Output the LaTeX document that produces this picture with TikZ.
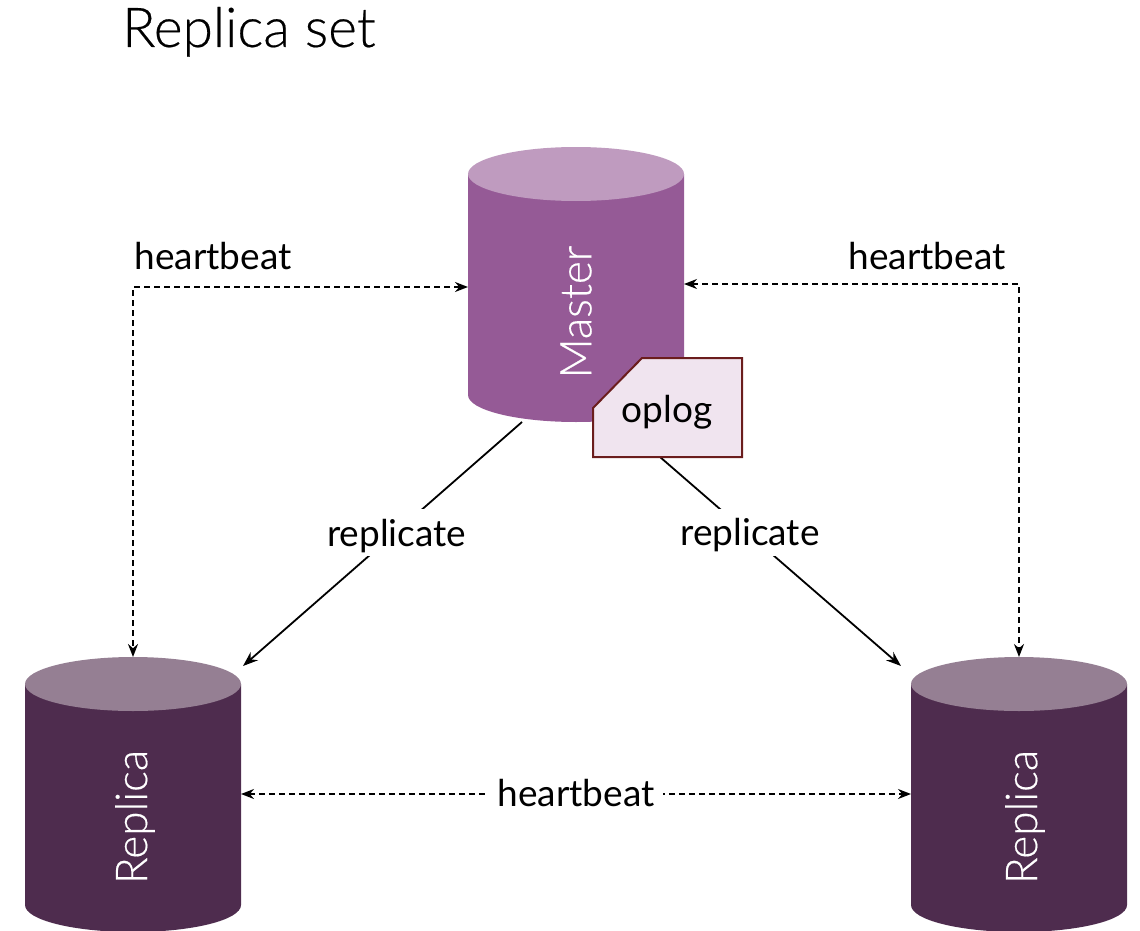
\documentclass[tikz,border=0pt]{standalone}
\usepackage{fontspec}
\setmainfont{Lato}
\newfontfamily\lightfont[FakeBold=0.35]{Lato Light}
\usetikzlibrary{arrows.meta,calc}
\definecolor{masterbody}{HTML}{955A96}
\definecolor{mastertop}{HTML}{BF9BBF}
\definecolor{replicabody}{HTML}{4E2C4E}
\definecolor{replicatop}{HTML}{957F93}
\definecolor{oplogfill}{HTML}{F0E4EF}
\definecolor{oplogline}{HTML}{6B1D1D}
\tikzset{
  cylbox/.style={minimum width=216pt,minimum height=275pt,inner sep=0pt,outer sep=0pt,anchor=north west},
  cyltext/.style={text=white,font=\lightfont\fontsize{44}{44}\selectfont,rotate=90,inner sep=0pt},
  lbl/.style={font=\fontsize{37}{37}\selectfont,text=black,inner sep=0pt},
  cutlbl/.style={lbl,fill=white,inner xsep=8pt,inner ysep=8pt,text height=29pt,text depth=2pt},
  replarrow/.style={draw=black,line width=1.8pt,-{Stealth[length=15pt,width=11pt]}},
  hbarrow/.style={draw=black,line width=1.8pt,dash pattern=on 6pt off 4pt,{Stealth[length=13pt,width=10pt]}-{Stealth[length=13pt,width=10pt]}}
}
\begin{document}
\begin{tikzpicture}[x=1pt,y=-1pt]
\useasboundingbox (0,0) rectangle (1140,931);
\node[font=\lightfont\fontsize{55}{55}\selectfont,anchor=base west,inner sep=0pt] (title) at (122,47) {Replica set};
% cylinders
\fill[masterbody] (468,174) -- (468,395) arc[start angle=180,end angle=0,x radius=108,y radius=27] -- (684,174) -- cycle;
\fill[mastertop] (576,174) ellipse[x radius=108,y radius=27];
\fill[replicabody] (25,684) -- (25,905) arc[start angle=180,end angle=0,x radius=108,y radius=27] -- (241,684) -- cycle;
\fill[replicatop] (133,684) ellipse[x radius=108,y radius=27];
\fill[replicabody] (911,684) -- (911,905) arc[start angle=180,end angle=0,x radius=108,y radius=27] -- (1127,684) -- cycle;
\fill[replicatop] (1019,684) ellipse[x radius=108,y radius=27];
\node[cylbox] (master) at (468,147) {};
\node[cylbox] (repl) at (25,657) {};
\node[cylbox] (repr) at (911,657) {};
\node[cyltext] (mastertext) at (576,312) {Master};
\node[cyltext] (repltext) at (135,817) {Replica};
\node[cyltext] (reprtext) at (1025,817) {Replica};
% connectors
\coordinate (mstartl) at (522,422);
\coordinate (mstartr) at (660,457);
\coordinate (replend) at (243,666);
\coordinate (reprend) at (901,666);
\draw[replarrow] (mstartl) -- (replend) node[cutlbl,pos=0.453,xshift=1pt] (repllabel) {replicate};
\draw[replarrow] (mstartr) -- (reprend) node[cutlbl,pos=0.361,xshift=3pt] (reprlabel) {replicate};
\draw[hbarrow] ($(master.west)+(0,2.5)$) -| (repl.north);
\draw[hbarrow] ($(master.east)+(0,-0.5)$) -| (repr.north);
\coordinate (hba) at (241,794);
\coordinate (hbb) at (911,794);
\draw[hbarrow] (hba) -- (hbb);
\node[lbl,fill=white,inner xsep=9pt,inner ysep=4pt] (hbmid) at (576,793) {heartbeat};
\node[lbl] (hbl) at (213,256) {heartbeat};
\node[lbl] (hbr) at (927,256) {heartbeat};
% oplog
\draw[fill=oplogfill,draw=oplogline,line width=2pt] (593,408) -- (642,358) -- (742,358) -- (742,457) -- (593,457) -- cycle;
\node[lbl] (oplog) at (667,412) {oplog};
\end{tikzpicture}
\end{document}
